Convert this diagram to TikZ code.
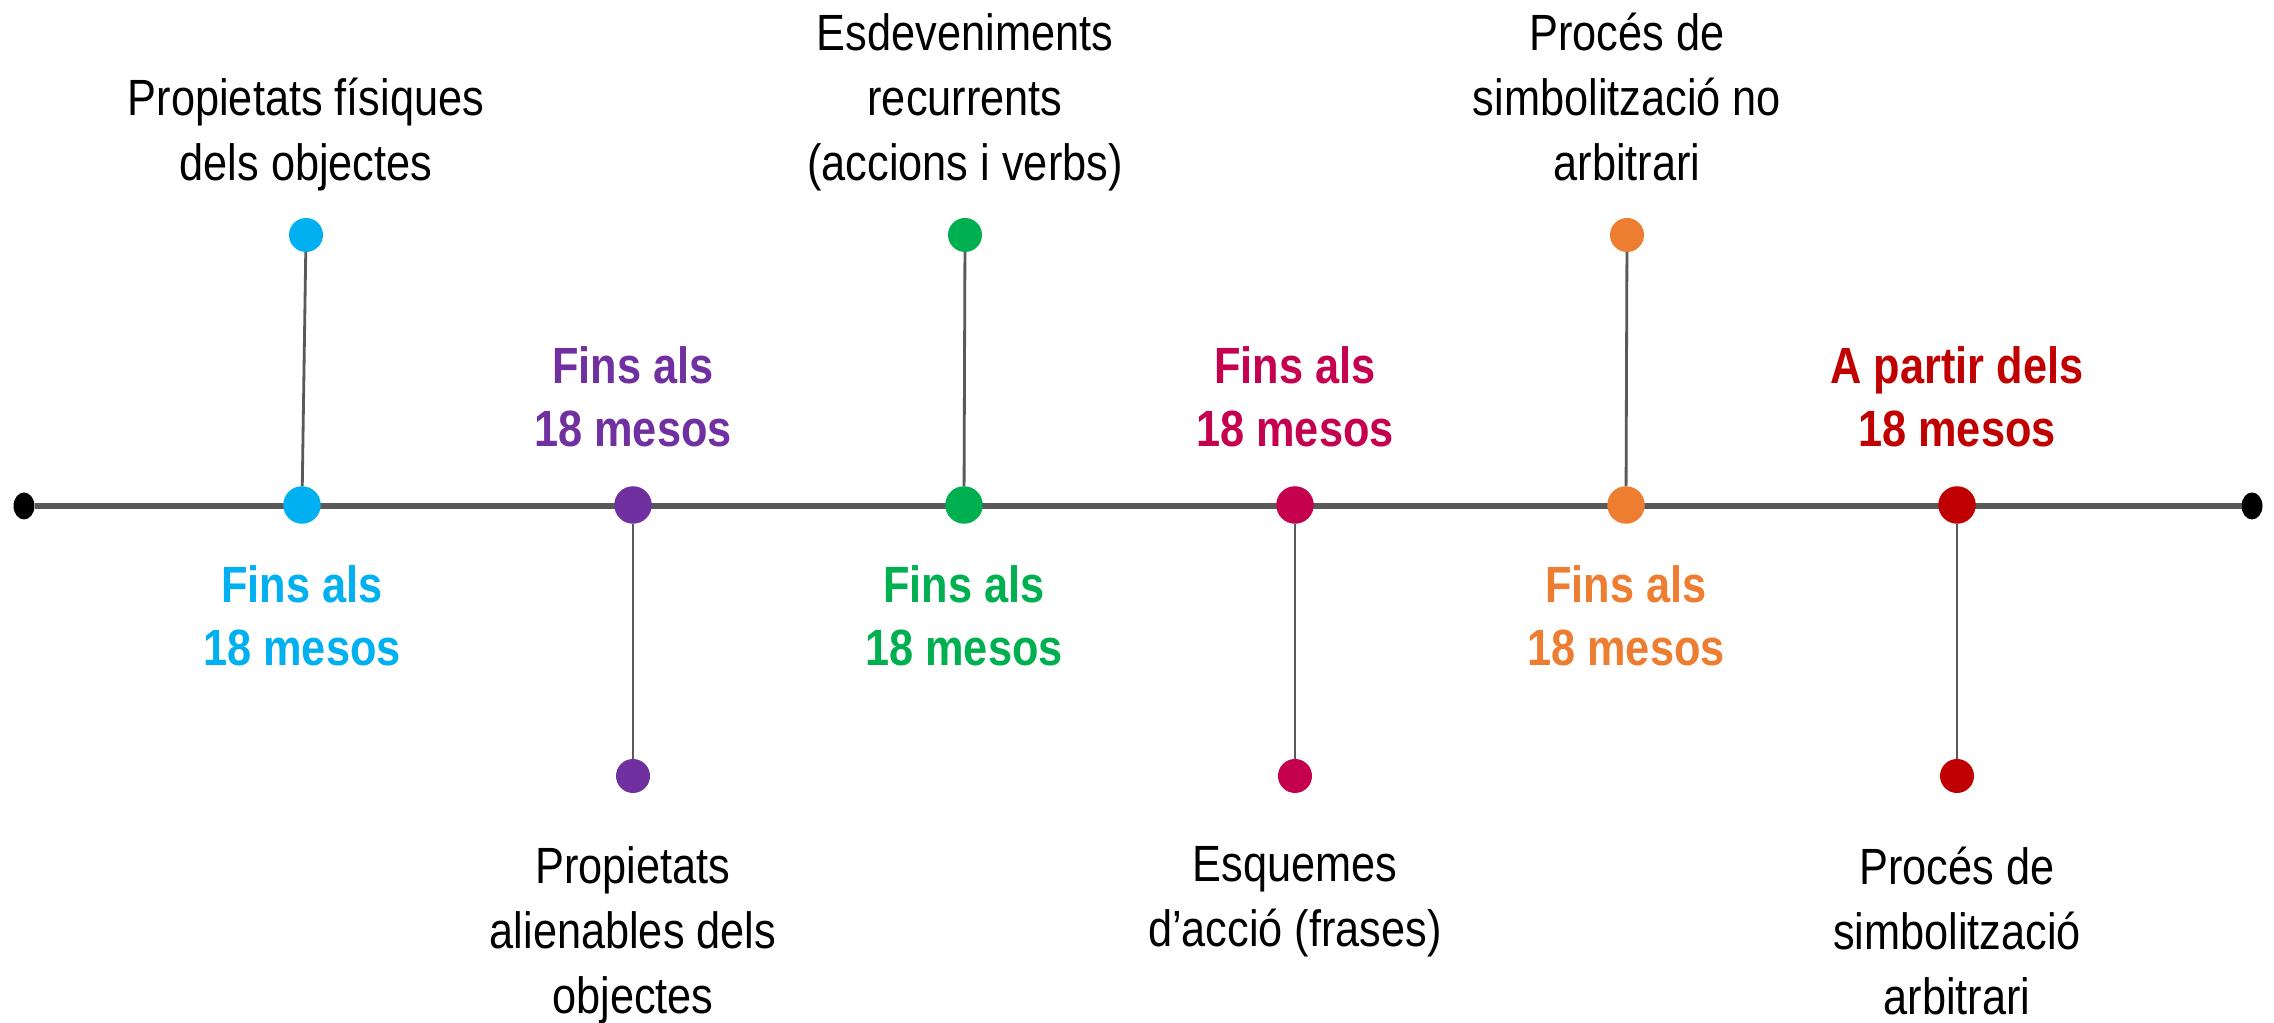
\documentclass[tikz,border=0pt]{standalone}
\usepackage{fontspec}
\setmainfont{Liberation Sans}[FakeStretch=0.85]
\usetikzlibrary{positioning,shapes.geometric}
\definecolor{lineGray}{HTML}{595959}
\definecolor{cBlue}{HTML}{00B0F0}
\definecolor{cPurple}{HTML}{7030A0}
\definecolor{cGreen}{HTML}{00B050}
\definecolor{cCrimson}{HTML}{C4004F}
\definecolor{cOrange}{HTML}{ED7D31}
\definecolor{cRed}{HTML}{C00000}
\tikzset{
  axis/.style={draw=lineGray, line width=1.7pt},
  stem/.style={draw=lineGray, line width=0.8pt},
  endpt/.style={ellipse, fill=black, minimum width=0.21cm, minimum height=0.27cm,
    inner sep=0pt, outer sep=0pt},
  dotbig/.style={circle, fill=#1, minimum size=0.375cm, inner sep=0pt, outer sep=0pt},
  dotsmall/.style={circle, fill=#1, minimum size=0.34cm, inner sep=0pt, outer sep=0pt},
  note/.style={align=center, inner sep=0pt, font=\fontsize{14.5}{18.5}\selectfont,
    execute at begin node=\strut, execute at end node=\strut},
  age/.style={note, text=#1, font=\bfseries\fontsize{14.5}{18}\selectfont},
}
\begin{document}
\begin{tikzpicture}
\useasboundingbox (0,0) rectangle (22.74,10.23);

% ---- axis ------------------------------------------------------------------
\node[endpt] (start) at (0.24,5.17) {};
\node[endpt] (stop)  at (22.52,5.17) {};
\draw[axis] (start) -- (stop);

% ---- stages on the axis ----------------------------------------------------
\node[dotbig=cBlue]    (fisiq) at (3.02,5.18) {};
\node[dotbig=cPurple]  (alien) at (6.33,5.18) {};
\node[dotbig=cGreen]   (esdev) at (9.64,5.18) {};
\node[dotbig=cCrimson] (esque) at (12.95,5.18) {};
\node[dotbig=cOrange]  (noarb) at (16.26,5.18) {};
\node[dotbig=cRed]     (arbit) at (19.57,5.18) {};

% ---- stems up --------------------------------------------------------------
\node[dotsmall=cBlue]   (fisiq-end) at (3.06,7.88) {};
\node[dotsmall=cGreen]  (esdev-end) at (9.65,7.88) {};
\node[dotsmall=cOrange] (noarb-end) at (16.27,7.88) {};
\draw[stem] (fisiq-end) -- (fisiq);
\draw[stem] (esdev-end) -- (esdev);
\draw[stem] (noarb-end) -- (noarb);

% ---- stems down ------------------------------------------------------------
\node[dotsmall=cPurple]  (alien-end) at (6.33,2.47) {};
\node[dotsmall=cCrimson] (esque-end) at (12.95,2.47) {};
\node[dotsmall=cRed]     (arbit-end) at (19.57,2.47) {};
\draw[stem] (alien) -- (alien-end);
\draw[stem] (esque) -- (esque-end);
\draw[stem] (arbit) -- (arbit-end);

% ---- what is learnt ----------------------------------------------------------
\node[note, above=0.175cm of fisiq-end] (fisiq-txt) {Propietats físiques\\dels objectes};
\node[note, above=0.175cm of esdev-end] (esdev-txt) {Esdeveniments\\recurrents\\(accions i verbs)};
\node[note, above=0.175cm of noarb-end] (noarb-txt) {Procés de\\simbolització no\\arbitrari};
\node[note, below=0.53cm of alien-end]  (alien-txt) {Propietats\\alienables dels\\objectes};
\node[note, below=0.53cm of esque-end]  (esque-txt) {Esquemes\\d’acció (frases)};
\node[note, below=0.53cm of arbit-end]  (arbit-txt) {Procés de\\simbolització\\arbitrari};

% ---- ages --------------------------------------------------------------------
\node[age=cBlue,    below=0.41cm of fisiq] (fisiq-age) {Fins als\\18 mesos};
\node[age=cPurple,  above=0.2cm of alien]  (alien-age) {Fins als\\18 mesos};
\node[age=cGreen,   below=0.41cm of esdev] (esdev-age) {Fins als\\18 mesos};
\node[age=cCrimson, above=0.2cm of esque]  (esque-age) {Fins als\\18 mesos};
\node[age=cOrange,  below=0.41cm of noarb] (noarb-age) {Fins als\\18 mesos};
\node[age=cRed,     above=0.2cm of arbit]  (arbit-age) {A partir dels\\18 mesos};

\end{tikzpicture}
\end{document}
